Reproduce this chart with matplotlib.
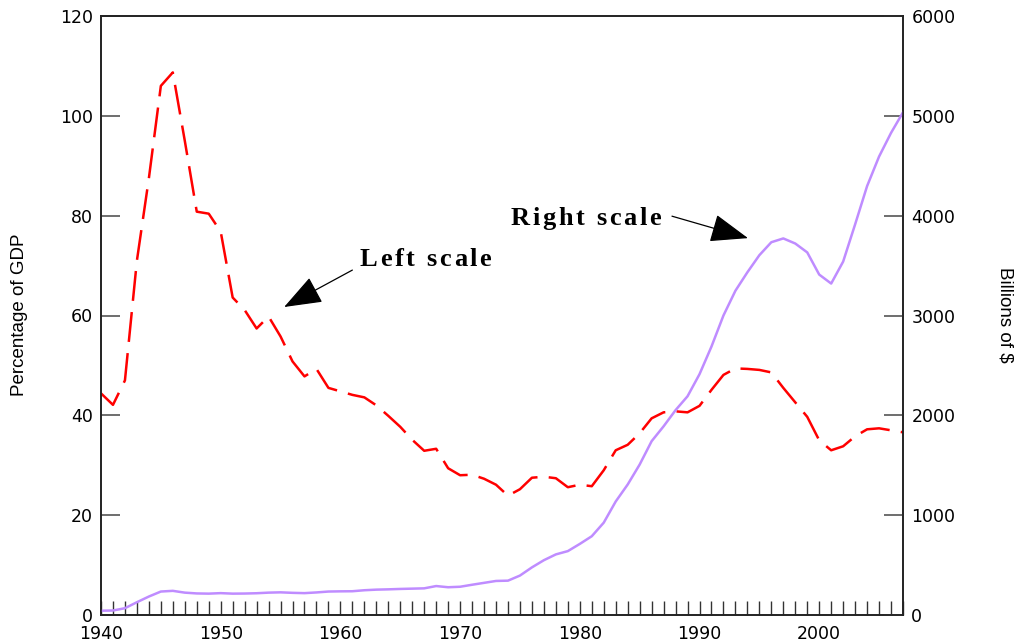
import matplotlib
matplotlib.use("Agg")
import matplotlib.pyplot as plt
from matplotlib.ticker import MultipleLocator
from matplotlib.transforms import IdentityTransform

years = list(range(1940, 2008))

# debt held by the public, percent of GDP (left scale)
pct_gdp = [44.4, 42.1, 47.0, 71.0, 87.5, 106.0, 108.7, 95.0, 80.8, 80.4,
           76.8, 63.6, 61.1, 57.4, 59.8, 55.8, 50.8, 47.8, 49.3, 45.5,
           44.8, 44.1, 43.6, 42.0, 39.9, 37.7, 35.1, 32.9, 33.3, 29.4,
           28.0, 28.1, 27.3, 26.1, 23.9, 25.2, 27.5, 27.7, 27.4, 25.6,
           26.1, 25.8, 29.0, 33.0, 34.1, 36.4, 39.4, 40.6, 40.8, 40.6,
           41.9, 45.1, 48.1, 49.4, 49.3, 49.1, 48.6, 45.5, 42.6, 39.7,
           35.0, 33.0, 33.8, 35.8, 37.2, 37.4, 37.0, 36.6]

# debt held by the public, billions of dollars (right scale)
billions = [43, 45, 68, 128, 185, 235, 242, 224, 216, 214,
            219, 214, 215, 218, 224, 227, 222, 219, 226, 235,
            237, 238, 248, 254, 257, 261, 264, 267, 290, 278,
            283, 303, 322, 341, 344, 395, 477, 549, 607, 640,
            712, 789, 925, 1137, 1307, 1507, 1741, 1890, 2052, 2191,
            2412, 2689, 3000, 3248, 3433, 3604, 3734, 3772, 3721, 3632,
            3410, 3320, 3540, 3913, 4296, 4592, 4829, 5035]

W, H = 1018, 642
plt.rcParams['font.family'] = ['DejaVu Sans']

fig = plt.figure(figsize=(W / 100, H / 100), dpi=100)
ax = fig.add_axes([101 / W, 27 / H, 802 / W, 599 / H])
ax2 = ax.twinx()

ax.plot(years, pct_gdp, color='#ff0000', lw=1.8, dashes=(12, 4.5))
ax2.plot(years, billions, color='#bf8cff', lw=1.8)

ax.set_xlim(1940, 2007)
ax.set_ylim(0, 120)
ax2.set_ylim(0, 6000)

ax.set_xticks(range(1940, 2001, 10))
ax.xaxis.set_minor_locator(MultipleLocator(1))
ax.set_yticks(range(0, 121, 20))
ax2.set_yticks(range(0, 6001, 1000))

ax.tick_params(axis='x', which='both', direction='in', length=10, width=1,
               color='#333333', labelsize=12.5, pad=7.5)
ax.tick_params(axis='y', direction='in', length=14, width=1.2,
               color='#555555', labelsize=12.5, pad=6)
ax2.tick_params(axis='y', direction='in', length=14, width=1.2,
                color='#555555', labelsize=12.5, pad=6)

for a in (ax, ax2):
    for s in a.spines.values():
        s.set_color('#222222')
        s.set_linewidth(1.2)

fig.text(20 / W, 1 - 315 / H, 'Percentage of GDP', rotation=90,
         ha='center', va='center', fontsize=13.5, family='Liberation Sans')
fig.text(1005 / W, 1 - 315 / H, 'Billions of $', rotation=270,
         ha='center', va='center', fontsize=13.5, family='Liberation Sans')


def tracked_text(px, py, s, track, **kw):
    # letter-spaced text, px/py = left/baseline in pixels from top-left
    renderer = fig.canvas.get_renderer()
    ref = fig.text(0, 0, 'x', transform=IdentityTransform(), **kw)
    wx = ref.get_window_extent(renderer).width
    ref.remove()
    for i, ch in enumerate(s):
        probe = fig.text(0, 0, s[:i] + 'x', transform=IdentityTransform(), **kw)
        adv = probe.get_window_extent(renderer).width - wx
        probe.remove()
        fig.text(px + adv + i * track, H - py, ch, transform=IdentityTransform(),
                 ha='left', va='baseline', **kw)


lbl_kw = dict(fontsize=19, fontweight='bold', family='Liberation Serif')
tracked_text(360, 266, 'Left scale', 2.6, **lbl_kw)
tracked_text(511, 225, 'Right scale', 2.6, **lbl_kw)

arrow_kw = dict(arrowstyle='-|>,head_length=1.2,head_width=0.45',
                color='black', lw=0.9, mutation_scale=20, shrinkA=0, shrinkB=0)
ax.annotate('', xy=(1955.3, 61.7), xytext=(1961.0, 69.1), arrowprops=arrow_kw)
ax.annotate('', xy=(1994.05, 75.5), xytext=(1987.7, 79.9), arrowprops=arrow_kw)

fig.savefig('out.png', dpi=100)
